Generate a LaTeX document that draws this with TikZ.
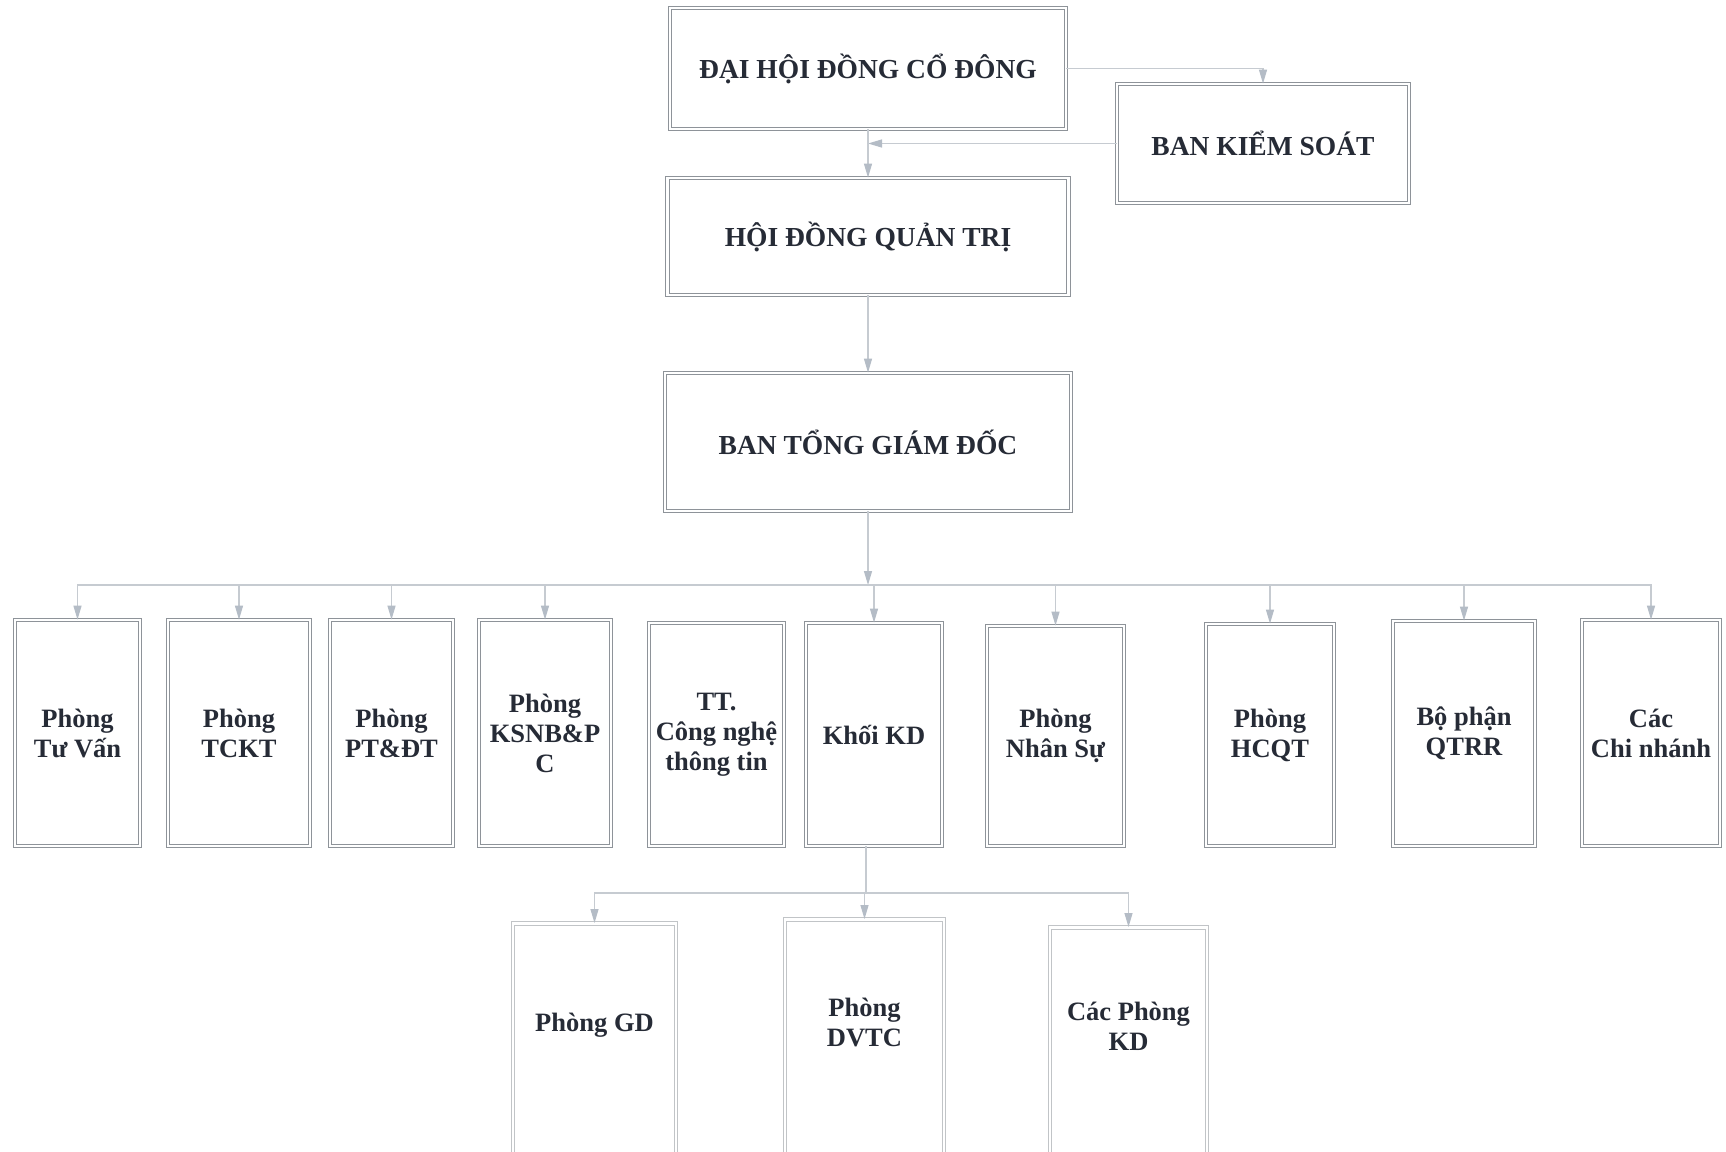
\documentclass[tikz,border=0pt]{standalone}
\usepackage{fontspec}
\setmainfont{Liberation Serif}
\usetikzlibrary{arrows.meta}
\definecolor{txtcol}{HTML}{262B36}
\definecolor{boxcol}{HTML}{8E9399}
\definecolor{linecol}{HTML}{C6CBD1}
\definecolor{tipcol}{HTML}{B4BCC6}
\tikzset{
  unit/.style={draw=boxcol, double=white, double distance=2.6pt, line width=0.8pt,
    text=txtcol, font=\bfseries\fontsize{27.5}{31}\selectfont, align=center, inner sep=0pt},
  dept/.style={unit, font=\bfseries\fontsize{26.5}{30}\selectfont},
  subdept/.style={dept, draw=boxcol!55, anchor=north},
  lbl/.style={text=txtcol, font=\bfseries\fontsize{26.5}{30}\selectfont, align=center, inner sep=0pt},
  link/.style={draw=linecol, line width=1.2pt},
  arr/.style={link, -{Triangle[width=8pt,length=14pt,fill=tipcol,color=tipcol]}}
}
\begin{document}
\begin{tikzpicture}[x=1pt,y=-1pt]
    \path[fill=white, use as bounding box] (0,0) rectangle (1726,1151);
    \clip (0,0) rectangle (1726,1151);

    % top of the chart
    \node[unit, minimum width=396pt, minimum height=121pt] (dhdcd) at (868,68.5) {ĐẠI HỘI ĐỒNG CỔ ĐÔNG};
    \node[unit, minimum width=292pt, minimum height=119pt] (bks) at (1263,143.5) {BAN KIỂM SOÁT};
    \node[unit, minimum width=401pt, minimum height=117pt] (hdqt) at (868,236.5) {HỘI ĐỒNG QUẢN TRỊ};
    \node[unit, minimum width=406pt, minimum height=138pt] (btgd) at (868,442) {BAN TỔNG GIÁM ĐỐC};

    \draw[arr] (dhdcd.east) -| (bks.north);
    \draw[arr] (bks.west) -- (bks.west -| dhdcd.south);
    \draw[arr] (dhdcd.south) -- (hdqt.north);
    \draw[arr] (hdqt.south) -- (btgd.north);

    % departments
    \node[dept, minimum width=125pt, minimum height=226pt] (tuvan) at (77.5,733) {Phòng\\Tư Vấn};
    \node[dept, minimum width=142pt, minimum height=226pt] (tckt) at (239,733) {Phòng\\TCKT};
    \node[dept, minimum width=123pt, minimum height=226pt] (ptdt) at (391.5,733) {Phòng\\PT\&ĐT};
    \node[dept, minimum width=132pt, minimum height=226pt] (ksnb) at (545,733) {Phòng\\KSNB\&P\\C};
    \node[dept, minimum width=135pt, minimum height=223pt] (cntt) at (716.5,734.5) {TT.\\Công nghệ\\thông tin};
    \node[dept, minimum width=136pt, minimum height=223pt] (khoikd) at (874,734.5) {Khối KD};
    \node[dept, minimum width=137pt, minimum height=220pt] (nhansu) at (1055.5,736) {Phòng\\Nhân Sự};
    \node[dept, minimum width=128pt, minimum height=222pt] (hcqt) at (1270,735) {Phòng\\HCQT};
    \node[dept, minimum width=142pt, minimum height=225pt] (qtrr) at (1464,733.5) {Bộ phận\\QTRR};
    \node[dept, minimum width=138pt, minimum height=226pt] (chinhanh) at (1651,733) {Các\\Chi nhánh};

    \coordinate (bus) at (868,585);
    \draw[arr] (btgd.south) -- (bus);
    \draw[arr] (bus) -| (tuvan.north);
    \draw[arr] (bus) -| (tckt.north);
    \draw[arr] (bus) -| (ptdt.north);
    \draw[arr] (bus) -| (ksnb.north);
    \draw[arr] (bus) -| (khoikd.north);
    \draw[arr] (bus) -| (nhansu.north);
    \draw[arr] (bus) -| (hcqt.north);
    \draw[arr] (bus) -| (qtrr.north);
    \draw[arr] (bus) -| (chinhanh.north);

    % under Khoi KD
    \node[subdept, minimum width=163pt, minimum height=245pt] (gd) at (594.5,923) {};
    \node[subdept, minimum width=159pt, minimum height=249pt] (dvtc) at (864.5,919) {};
    \node[subdept, minimum width=157pt, minimum height=241pt] (cacpkd) at (1128.5,927) {};
    \node[lbl] (gdtext) at (594.5,1025) {Phòng GD};
    \node[lbl] (dvtctext) at (864.5,1022) {Phòng\\DVTC};
    \node[lbl] (cacpkdtext) at (1128.5,1026) {Các Phòng\\KD};

    \coordinate (bus2) at (866,893);
    \draw[link] (khoikd.south -| bus2) -- (bus2);
    \draw[arr] (bus2) -| (gd.north);
    \draw[arr] (bus2) -| (dvtc.north);
    \draw[arr] (bus2) -| (cacpkd.north);
\end{tikzpicture}
\end{document}
